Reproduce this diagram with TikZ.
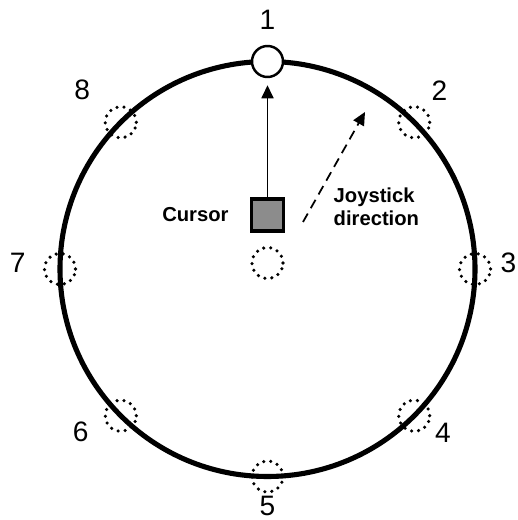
\documentclass[tikz,border=0pt]{standalone}
\usepackage{fontspec}
\setmainfont{Liberation Sans}
\usetikzlibrary{arrows.meta,positioning}

\begin{document}
\begin{tikzpicture}[
  spot/.style={circle,draw,line width=1.4pt,minimum size=0.62cm,inner sep=0pt},
  slot/.style={circle,draw,line width=2pt,line cap=round,dash pattern=on 0pt off 4pt,minimum size=0.62cm,inner sep=0pt},
  num/.style={font=\fontsize{16}{18}\selectfont},
  tag/.style={font=\bfseries\fontsize{11.5}{13}\selectfont}
]
  \useasboundingbox (-5.35,-5.02) rectangle (4.99,5.38);
  % ring of targets
  \draw[line width=2.9pt] (0,0) circle (4.15);
  \node[spot,fill=white] (p1) at (90:4.15) {};
  \foreach \k/\a in {2/45,3/0,4/-45,5/-90,6/-135,7/180,8/135}
    \node[slot] (p\k) at (\a:4.15) {};
  \foreach \k/\a/\r in {1/90/4.98,2/46/4.95,3/1.4/4.82,4/-43/4.8,5/-90/4.74,6/-139/4.95,7/178.6/5.0,8/136/5.15}
    \node[num] (n\k) at (\a:\r) {\k};
  % cursor in the middle
  \node[slot] (home) at (0,0.12) {};
  \node[draw,line width=2pt,fill=black!45,minimum size=0.64cm,inner sep=0pt] (cursor) at (0,1.08) {};
  \node[tag,left=0.3cm of cursor] (curlab) {Cursor};
  \node[tag,align=left,anchor=west] (joylab) at (1.2,1.24) {Joystick\\direction};
  \draw[-{Triangle[length=2.6mm,width=2.4mm]},line width=1pt,shorten >=4pt] (cursor.north) -- (p1.south);
  \coordinate (ds) at (0.71,0.94);
  \coordinate (de) at (1.95,3.14);
  \draw[-{Triangle[length=2.6mm,width=2.4mm]},line width=1pt,dash pattern=on 5.5pt off 3.5pt] (ds) -- (de);
\end{tikzpicture}
\end{document}
